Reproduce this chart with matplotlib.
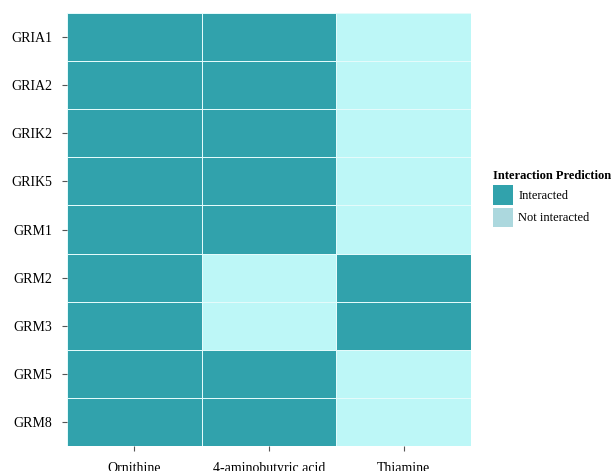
import matplotlib.pyplot as plt
import numpy as np
from matplotlib.colors import ListedColormap
from matplotlib.patches import Patch

plt.rcParams['font.family'] = ['Liberation Serif', 'DejaVu Serif']

genes = ["GRIA1", "GRIA2", "GRIK2", "GRIK5", "GRM1", "GRM2", "GRM3", "GRM5", "GRM8"]
compounds = ["Ornithine", "4-aminobutyric acid", "Thiamine"]
# 1 = Interacted, 0 = Not interacted
ornithine = [1, 1, 1, 1, 1, 1, 1, 1, 1]
gaba = [1, 1, 1, 1, 1, 0, 0, 1, 1]
thiamine = [0, 0, 0, 0, 0, 1, 1, 0, 0]

vals = np.array([ornithine, gaba, thiamine]).T

dark = "#31a2ac"
light = "#bdf7f7"
legend_light = "#acd8de"

fig = plt.figure(figsize=(6.13, 4.71), dpi=100)
ax = fig.add_axes([67/613, 25/471, 404/613, 433/471])

cmap = ListedColormap([light, dark])
ax.pcolormesh(np.arange(4), np.arange(10), vals[::-1], cmap=cmap, vmin=0, vmax=1,
              edgecolors="#e4fbfb", linewidth=0.6)
ax.set_xlim(0, 3)
ax.set_ylim(0, 9)
ax.set_xticks(np.arange(3) + 0.5)
ax.set_xticklabels(compounds, fontsize=10)
ax.set_yticks(np.arange(9) + 0.5)
ax.set_yticklabels(genes[::-1], fontsize=10)
for s in ax.spines.values():
    s.set_visible(False)
ax.tick_params(axis="y", color="#555555", length=3.5, pad=7)
ax.tick_params(axis="x", color="#555555", length=3.5, pad=8)

handles = [Patch(facecolor=dark, edgecolor="none", label="Interacted"),
           Patch(facecolor=legend_light, edgecolor="none", label="Not interacted")]
leg = fig.legend(handles=handles, title="Interaction Prediction", loc="upper left",
                 bbox_to_anchor=(482/613, 1 - 159/471), frameon=False, fontsize=9,
                 title_fontproperties={"weight": "bold", "size": 9},
                 handlelength=1.6, handleheight=2.0, handletextpad=0.4, labelspacing=0.25,
                 alignment="left")

fig.savefig("out.png", dpi=100)
